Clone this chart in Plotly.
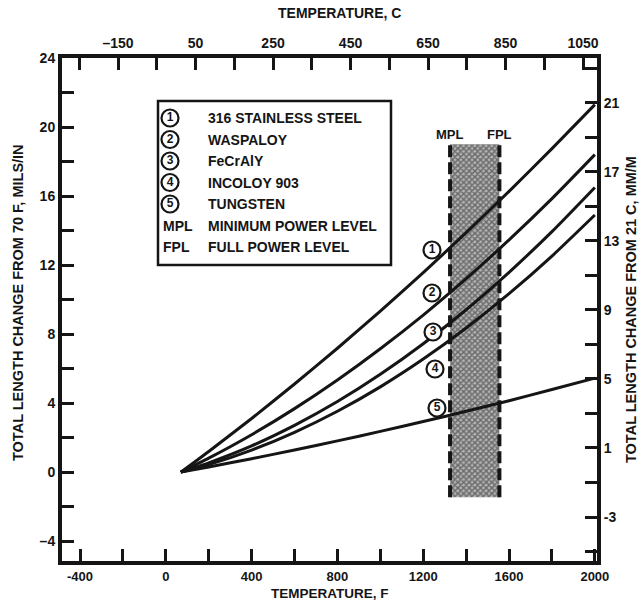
import plotly.graph_objects as go

# ---------------- data ----------------
temps_f = [70, 200, 400, 600, 800, 1000, 1200, 1400, 1600, 1800, 2000]
ss316 = [0, 1.20, 3.11, 5.11, 7.18, 9.33, 11.56, 13.88, 16.27, 18.75, 21.30]
waspaloy = [0, 0.81, 2.17, 3.68, 5.34, 7.15, 9.10, 11.21, 13.46, 15.85, 18.40]
fecraly = [0, 0.54, 1.52, 2.71, 4.09, 5.67, 7.44, 9.41, 11.58, 13.94, 16.50]
incoloy903 = [0, 0.44, 1.28, 2.31, 3.53, 4.94, 6.55, 8.35, 10.34, 12.52, 14.90]
tungsten = [0, 0.30, 0.78, 1.28, 1.81, 2.36, 2.93, 3.53, 4.14, 4.79, 5.45]
curve_ids = ["1", "2", "3", "4", "5"]
series_names = ["316 STAINLESS STEEL", "WASPALOY", "FeCrAlY", "INCOLOY 903", "TUNGSTEN"]
abbrevs = ["MPL", "FPL"]
abbrev_names = ["MINIMUM POWER LEVEL", "FULL POWER LEVEL"]

band_f = [1325, 1555]          # MPL, FPL temperatures (F)
band_y = [-1.45, 19.0]         # vertical extent of the shaded band

x_ticks_f = [-400, -200, 0, 200, 400, 600, 800, 1000, 1200, 1400, 1600, 1800, 2000]
x_labels_f = ["-400", "", "0", "", "400", "", "800", "", "1200", "", "1600", "", "2000"]
x_ticks_c = [-250, -150, -50, 50, 150, 250, 350, 450, 550, 650, 750, 850, 950, 1050]
x_labels_c = ["", "\u2013150", "", "50", "", "250", "", "450", "", "650", "", "850", "", "1050"]
y_ticks_l = [-4, -2, 0, 2, 4, 6, 8, 10, 12, 14, 16, 18, 20, 22, 24]
y_labels_l = ["\u20134", "", "0", "", "4", "", "8", "", "12", "", "16", "", "20", "", "24"]
y_ticks_r = [-5, -3, -1, 1, 3, 5, 7, 9, 11, 13, 15, 17, 19, 21, 23]
y_labels_r = ["", "-3", "", "1", "", "5", "", "9", "", "13", "", "17", "", "21", ""]

# ---------------- geometry ----------------
W, H = 641, 602
L, R, T, B = 62, 44, 58, 41
PW, PH = W - L - R, H - T - B
XR = [-484, 2010]
YR = [-5.15, 24.0]
XCR = [-294.5, 1086]
YRR = [YR[0] - 0.4, YR[1] - 0.4]


def dx(px):
    return XR[0] + (px - L) / PW * (XR[1] - XR[0])


def dy(py):
    return YR[1] - (py - T) / PH * (YR[1] - YR[0])


def pxp(px):
    return (px - L) / PW


def pyp(py):
    return (H - B - py) / PH


FONT = "Liberation Sans, Arial, sans-serif"
INK = "#151515"

fig = go.Figure()

# shaded MPL-FPL band
fig.add_trace(go.Scatter(
    x=[band_f[0], band_f[1], band_f[1], band_f[0], band_f[0]],
    y=[band_y[0], band_y[0], band_y[1], band_y[1], band_y[0]],
    mode="lines", line=dict(width=0, color="rgba(0,0,0,0)"),
    fill="toself", fillcolor="#8a8a8a",
    fillpattern=dict(shape="x", size=4, solidity=0.6, fgcolor="#1e1e1e", bgcolor="#b4b4b4"),
    hoverinfo="skip", showlegend=False))

# curves
for vals in [ss316, waspaloy, fecraly, incoloy903, tungsten]:
    fig.add_trace(go.Scatter(
        x=temps_f, y=vals, mode="lines",
        line=dict(color=INK, width=3, shape="spline", smoothing=0.6),
        showlegend=False, hoverinfo="skip"))

# dummy trace for secondary axes
fig.add_trace(go.Scatter(x=[None], y=[None], xaxis="x2", yaxis="y2",
                         showlegend=False, hoverinfo="skip"))

shapes = []
# dashed band edges
for f in band_f:
    shapes.append(dict(type="line", xref="x", yref="y", x0=f, x1=f,
                       y0=band_y[0], y1=band_y[1],
                       line=dict(color=INK, width=4, dash="12px,5px")))
# legend box
shapes.append(dict(type="rect", xref="paper", yref="paper",
                   x0=pxp(158), x1=pxp(391), y0=pyp(265), y1=pyp(101),
                   line=dict(color=INK, width=2.5), fillcolor="rgba(0,0,0,0)"))

annotations = []
# circled curve labels
lab_px = [(432, 250), (432, 293), (433, 332), (435, 369), (437, 408)]
circ_x = [dx(p[0]) for p in lab_px]
circ_y = [dy(p[1]) for p in lab_px]
leg_rows = [118, 139.5, 161, 182.5, 204, 225.5, 247]
leg_cx = [dx(170)] * 5
leg_cy = [dy(r) for r in leg_rows[:5]]
fig.add_trace(go.Scatter(
    x=circ_x + leg_cx, y=circ_y + leg_cy, mode="markers+text",
    text=curve_ids + curve_ids, textposition="middle center",
    textfont=dict(family=FONT, size=12, color=INK, weight="bold"),
    marker=dict(symbol="circle", size=17, color="white", line=dict(color=INK, width=2.2)),
    showlegend=False, hoverinfo="skip", cliponaxis=False))

LEGFONT = dict(family=FONT, size=14, color=INK, weight="bold")
for i, name in enumerate(series_names):
    annotations.append(dict(xref="paper", yref="paper", x=pxp(206), y=pyp(leg_rows[i]),
                            text=name, showarrow=False, xanchor="left", yanchor="middle",
                            font=LEGFONT))
for j, (ab, nm) in enumerate(zip(abbrevs, abbrev_names)):
    annotations.append(dict(xref="paper", yref="paper", x=pxp(161), y=pyp(leg_rows[5 + j]),
                            text=ab, showarrow=False, xanchor="left", yanchor="middle",
                            font=LEGFONT))
    annotations.append(dict(xref="paper", yref="paper", x=pxp(206), y=pyp(leg_rows[5 + j]),
                            text=nm, showarrow=False, xanchor="left", yanchor="middle",
                            font=LEGFONT))

# MPL / FPL above band
for f, ab in zip(band_f, abbrevs):
    annotations.append(dict(xref="x", yref="paper", x=f, y=pyp(135), text=ab,
                            showarrow=False, xanchor="center", yanchor="middle",
                            font=dict(family=FONT, size=13, color=INK, weight="bold")))

# axis titles
annotations += [
    dict(xref="paper", yref="paper", x=pxp(339), y=pyp(13), text="TEMPERATURE, C",
         showarrow=False, xanchor="center", yanchor="middle",
         font=dict(family=FONT, size=14, color=INK, weight="bold")),
    dict(xref="paper", yref="paper", x=pxp(330), y=pyp(593), text="TEMPERATURE, F",
         showarrow=False, xanchor="center", yanchor="middle",
         font=dict(family=FONT, size=13.5, color=INK, weight="bold")),
    dict(xref="paper", yref="paper", x=pxp(18), y=pyp(303),
         text="TOTAL LENGTH CHANGE FROM 70 F, MILS/IN", textangle=-90,
         showarrow=False, xanchor="center", yanchor="middle",
         font=dict(family=FONT, size=14.5, color=INK, weight="bold")),
    dict(xref="paper", yref="paper", x=pxp(631), y=pyp(310),
         text="TOTAL LENGTH CHANGE FROM 21 C, MM/M", textangle=-90,
         showarrow=False, xanchor="center", yanchor="middle",
         font=dict(family=FONT, size=14.5, color=INK, weight="bold")),
]

tickfont = dict(family=FONT, size=14, color=INK, weight="bold")
axis_common = dict(showgrid=False, zeroline=False, showline=True, linewidth=4,
                   linecolor=INK, ticks="inside", ticklen=12, tickwidth=2.5,
                   tickcolor=INK, tickmode="array")

fig.update_layout(
    width=W, height=H, margin=dict(l=L, r=R, t=T, b=B, pad=0),
    paper_bgcolor="white", plot_bgcolor="white", showlegend=False,
    xaxis=dict(range=XR, tickvals=x_ticks_f, ticktext=x_labels_f, side="bottom",
               tickfont=dict(family=FONT, size=13, color=INK, weight="bold"), **axis_common),
    yaxis=dict(range=YR, tickvals=y_ticks_l, ticktext=y_labels_l, side="left",
               tickfont=tickfont, **axis_common),
    xaxis2=dict(range=XCR, tickvals=x_ticks_c, ticktext=x_labels_c, side="top",
                overlaying="x", tickfont=tickfont, **axis_common),
    yaxis2=dict(range=YRR, tickvals=y_ticks_r, ticktext=y_labels_r, side="right",
                overlaying="y", tickfont=tickfont, **axis_common),
    shapes=shapes, annotations=annotations,
)

fig.write_html("out.html")
